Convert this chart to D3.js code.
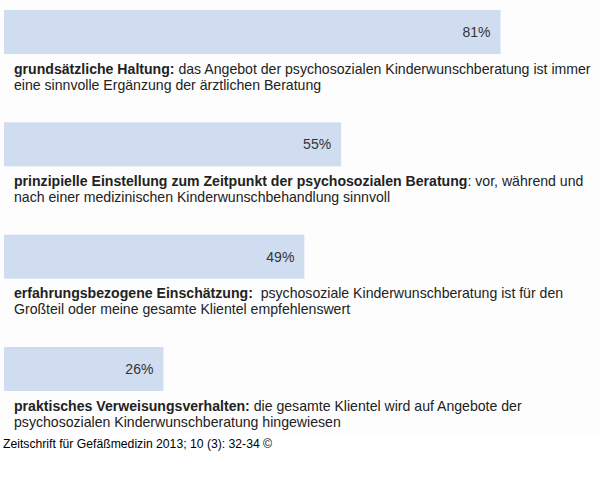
<!DOCTYPE html>
<html>
<head>
<meta charset="utf-8">
<script src="https://cdn.jsdelivr.net/npm/d3@7"></script>
<style>
  body { margin: 0; background: #fff; }
  svg { display: block; font-family: "Liberation Sans", Arial, sans-serif; }
</style>
</head>
<body>
<svg></svg>
<script>
let width = 600, height = 498;

// data
let categories = [
    "grundsätzliche Haltung:",
    "prinzipielle Einstellung zum Zeitpunkt der psychosozialen Beratung",
    "erfahrungsbezogene Einschätzung:",
    "praktisches Verweisungsverhalten:"
];
let values = [81, 55, 49, 26];
let firstLineRest = [
    " das Angebot der psychosozialen Kinderwunschberatung ist immer",
    ": vor, während und",
    "  psychosoziale Kinderwunschberatung ist für den",
    " die gesamte Klientel wird auf Angebote der"
];
let secondLine = [
    "eine sinnvolle Ergänzung der ärztlichen Beratung",
    "nach einer medizinischen Kinderwunschbehandlung sinnvoll",
    "Großteil oder meine gesamte Klientel empfehlenswert",
    "psychosozialen Kinderwunschberatung hingewiesen"
];
let source = "Zeitschrift für Gefäßmedizin 2013; 10 (3): 32-34 ©";

let svg = d3.select("svg")
    .attr("width", width)
    .attr("height", height);

// slight off-white panel behind chart like the original scan
svg.append("rect")
    .attr("x", 0).attr("y", 0)
    .attr("width", width).attr("height", 434)
    .attr("fill", "#fdfdfd");

let x = d3.scaleLinear()
    .domain([0, 100])
    .range([4, 617]);

let y = d3.scaleBand()
    .domain(categories)
    .range([10, 391])
    .paddingInner(0.608)
    .paddingOuter(0);

let rows = categories.map((c, i) => ({cat: c, value: values[i], rest: firstLineRest[i], line2: secondLine[i]}));

let g = svg.append("g")
    .selectAll("g")
    .data(rows)
    .enter()
    .append("g");

g.append("rect")
    .attr("x", x(0))
    .attr("y", d => y(d.cat))
    .attr("width", d => x(d.value) - x(0))
    .attr("height", y.bandwidth())
    .attr("fill", "#d0ddf1");

g.append("text")
    .attr("x", d => x(d.value) - 10)
    .attr("y", d => y(d.cat) + y.bandwidth() / 2 + 5)
    .attr("text-anchor", "end")
    .attr("font-size", 14)
    .attr("fill", "#333")
    .text(d => d.value + "%");

let label = g.append("text")
    .attr("x", 14)
    .attr("y", d => y(d.cat) + y.bandwidth() + 19.5)
    .attr("font-size", 14.1)
    .attr("fill", "#222");

label.append("tspan")
    .attr("font-weight", "bold")
    .text(d => d.cat);

label.append("tspan")
    .style("white-space", "pre")
    .text(d => d.rest);

g.append("text")
    .attr("x", 14)
    .attr("y", d => y(d.cat) + y.bandwidth() + 35.5)
    .attr("font-size", 14.1)
    .attr("fill", "#222")
    .text(d => d.line2);

svg.append("text")
    .attr("x", 3)
    .attr("y", 448)
    .attr("font-size", 12.2)
    .attr("fill", "#000")
    .text(source);
</script>
</body>
</html>
